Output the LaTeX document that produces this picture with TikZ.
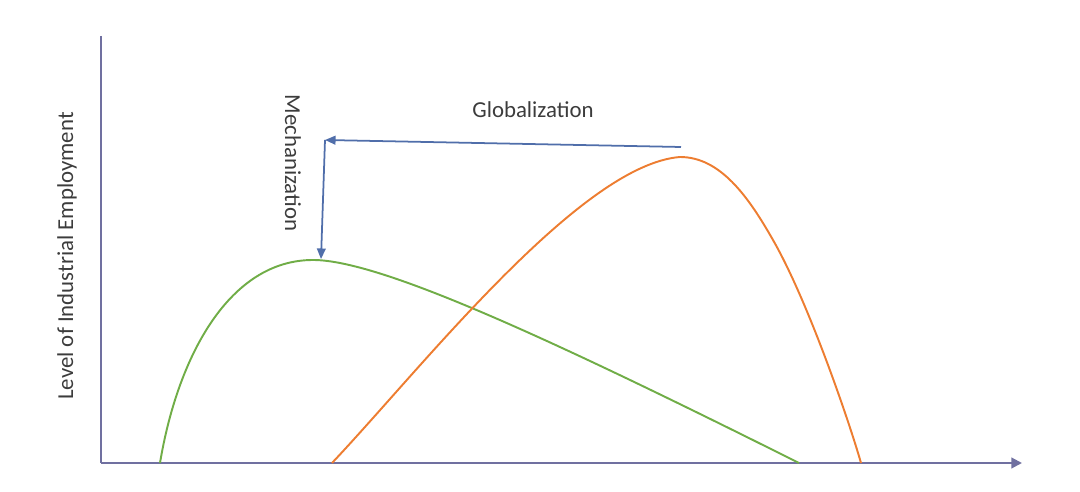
\documentclass[tikz,border=0pt]{standalone}
\usepackage{fontspec}
\setmainfont{Carlito}
\usetikzlibrary{arrows.meta}
\definecolor{axisc}{RGB}{112,112,160}
\definecolor{arrc}{RGB}{80,110,170}
\definecolor{greenc}{RGB}{112,173,71}
\definecolor{orangec}{RGB}{237,125,49}
\definecolor{txtc}{RGB}{60,60,60}
\tikzset{
  axisline/.style={draw=axisc, line width=1.2pt},
  arrline/.style={draw=arrc, line width=1pt, -{Triangle[length=6pt,width=5pt]}},
  curve/.style={line width=1.1pt},
  lbl/.style={font=\fontsize{13}{15}\selectfont, text=txtc, inner sep=0pt}
}
\begin{document}
\begin{tikzpicture}[x=0.02cm,y=-0.02cm]
\useasboundingbox (0,0) rectangle (1080,492);
\coordinate (o) at (101,463);
\coordinate (ytop) at (101,36);
\coordinate (xend) at (1022,463);
\draw[axisline] (ytop) -- (o);
\draw[axisline, -{Triangle[length=6pt,width=6pt]}] (o) -- (xend);
% curves
\draw[curve, greenc] (160,463) .. controls (178,355) and (230,260) .. (313,260)
  .. controls (380,260) and (549,338) .. (799,463);
\draw[curve, orangec] (332,463) .. controls (420,370) and (580,165) .. (680,157)
  .. controls (720,157) and (748,196) .. (773,240)
  .. controls (808,301) and (849,421) .. (861,463);
% arrows
\coordinate (gstart) at (681,147);
\coordinate (corner) at (325,140);
\coordinate (mend) at (321,259);
\draw[arrline] (gstart) -- (corner);
\draw[arrline] (corner) -- (mend);
\node[lbl] (glob) at (533,110) {Globalization};
\node[lbl, rotate=-90] (mech) at (293,163) {Mechanization};
\node[lbl, rotate=90] (ylab) at (67,256) {Level of Industrial Employment};
\end{tikzpicture}
\end{document}
